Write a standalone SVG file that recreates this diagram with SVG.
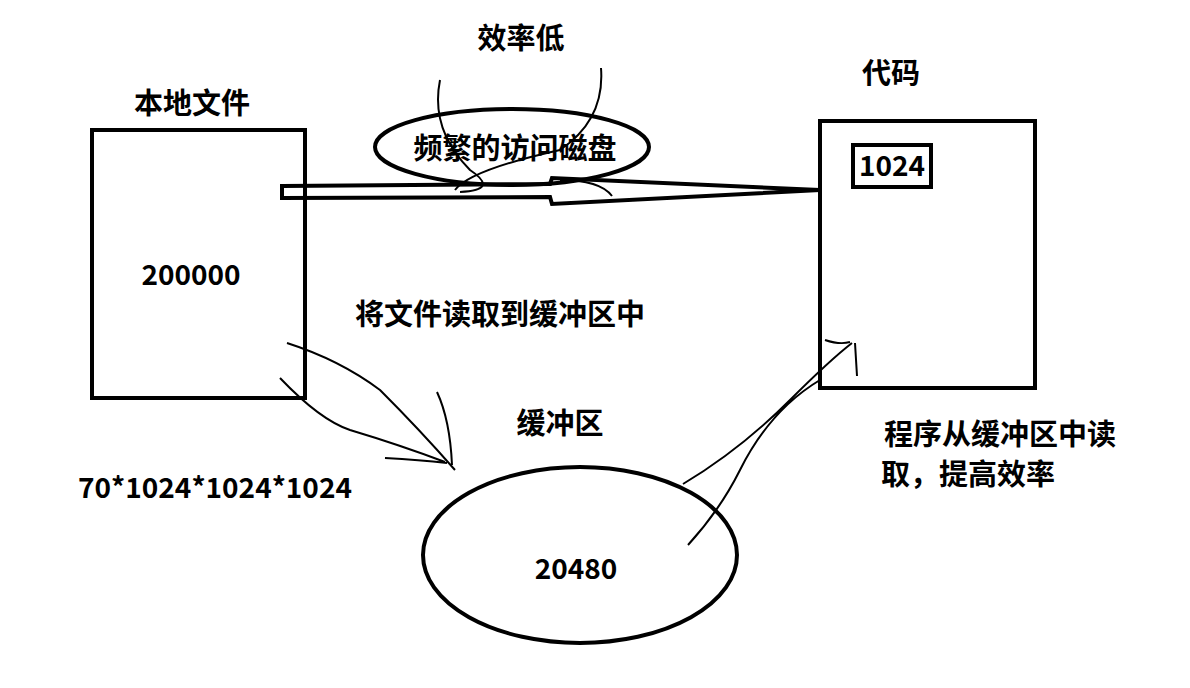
<svg xmlns="http://www.w3.org/2000/svg" width="1190" height="688" viewBox="0 0 1190 688">
<style>
.t{font-family:"Noto Sans CJK SC","Liberation Sans",sans-serif;font-size:28px;font-weight:bold;fill:#000;text-anchor:middle}
.c{font-size:29px}
.b{fill:none;stroke:#000;stroke-width:4}
.s{fill:none;stroke:#000;stroke-width:2}
</style>
<rect width="1190" height="688" fill="#fff"/>
<g id="local-file"><rect class="b" x="92" y="130" width="213" height="268"/><text class="t c" x="192" y="114">本地文件</text><text class="t" x="191" y="285">200000</text></g>
<g id="code"><rect class="b" x="820" y="121" width="215" height="267"/><text class="t c" x="891" y="84">代码</text><rect class="b" x="853" y="145" width="78" height="42"/><text class="t" x="892" y="176">1024</text></g>
<g id="disk"><ellipse class="b" cx="512" cy="147" rx="137" ry="38"/><text class="t c" x="515" y="159">频繁的访问磁盘</text><text class="t c" x="521" y="49">效率低</text></g>
<g id="buffer"><ellipse class="b" cx="580" cy="555" rx="157" ry="88"/><text class="t" x="576" y="579">20480</text><text class="t c" x="560" y="434">缓冲区</text></g>
<g id="labels"><text class="t c" x="1000" y="445">程序从缓冲区中读</text><text class="t c" x="968" y="485">取，提高效率</text><text class="t c" x="500" y="325">将文件读取到缓冲区中</text><text class="t" x="215" y="498">70*1024*1024*1024</text></g>
<g id="connectors">
<path class="b" stroke-width="3" d="M282 186 L550 184 L552 178 L820 190 L552 204 L550 197 L282 198 Z"/>
<path class="s" d="M440 80 Q430 130 470 170 Q500 190 460 192 M601 68 Q605 120 560 150 Q470 170 455 190 M560 180 Q600 180 612 196"/>
<path class="s" d="M287 343 Q340 360 380 390 Q420 430 455 470 M280 378 Q320 420 350 430 Q400 445 445 462 M437 392 Q450 420 452 465 M385 458 Q420 460 447 463"/>
<path class="s" d="M688 545 Q720 510 740 470 Q770 410 820 380 M683 484 Q740 450 790 400 Q830 360 852 343 M855 343 L857 376 M825 340 Q840 345 850 342"/>
</g>
</svg>
